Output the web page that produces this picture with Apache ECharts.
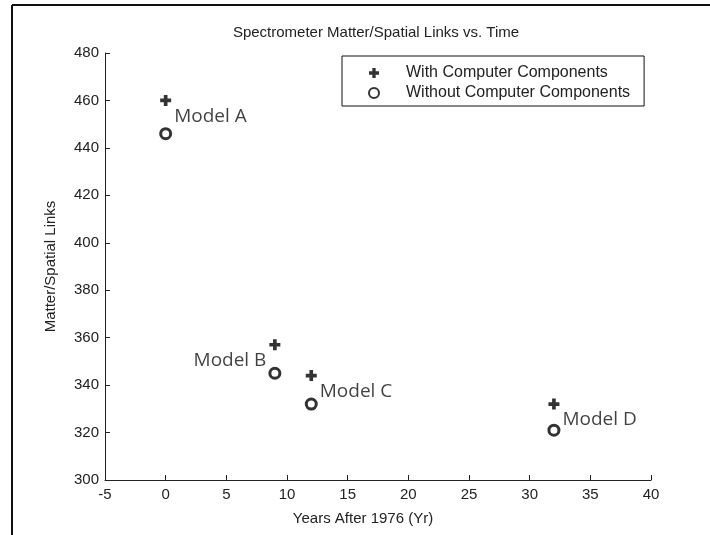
<!DOCTYPE html>
<html>
<head>
<meta charset="utf-8">
<script src="https://cdn.jsdelivr.net/npm/echarts@6/dist/echarts.min.js"></script>
<style>
  html, body { margin: 0; padding: 0; background: #fff; }
  #e_chart_1 { width: 710px; height: 535px; }
</style>
</head>
<body>
<div id="e_chart_1"></div>
<script>
var years = [0, 9, 12, 32];
var withComputer = [460, 357, 344, 332];
var withoutComputer = [446, 345, 332, 321];
var models = ['Model A', 'Model B', 'Model C', 'Model D'];
var xTicks = [-5, 0, 5, 10, 15, 20, 25, 30, 35, 40];
var yTicks = [300, 320, 340, 360, 380, 400, 420, 440, 460, 480];

// where each model label sits next to its "with" marker
var labelSide = ['right', 'left', 'right', 'right'];

var plusPath = 'path://M3,0H6V3H9V6H6V9H3V6H0V3H3Z';
var font = 'Liberation Sans, Arial, sans-serif';

var dom = document.getElementById("e_chart_1");
var myChart = echarts.init(dom);

var withData = years.map(function (x, i) {
    return {
        value: [x, withComputer[i]],
        label: {
            show: true,
            formatter: models[i],
            position: labelSide[i],
            distance: 3,
            offset: [0, 16],
            color: '#111',
            fontFamily: 'Open Sans, Noto Sans, sans-serif',
            fontSize: 19
        }
    };
});
var withoutData = years.map(function (x, i) {
    return [x, withoutComputer[i]];
});

var option = {
    backgroundColor: '#fff',
    animation: false,
    title: {
        text: 'Spectrometer Matter/Spatial Links vs. Time',
        left: 371,
        top: 20,
        textAlign: 'center',
        textStyle: {
            fontFamily: font,
            fontWeight: 'normal',
            fontSize: 15,
            color: '#222'
        }
    },
    legend: {
        orient: 'vertical',
        left: 342,
        top: 56,
        padding: [9, 14, 5, 26],
        itemGap: 4,
        itemWidth: 10,
        itemHeight: 10,
        borderColor: '#111',
        borderWidth: 1,
        borderRadius: 0,
        textStyle: {
            fontFamily: font,
            fontSize: 16,
            color: '#222',
            padding: [0, 0, 0, 22]
        },
        data: [
            { name: 'With Computer Components', icon: plusPath },
            { name: 'Without Computer Components', icon: 'circle' }
        ]
    },
    grid: {
        left: 105,
        right: 59,
        top: 53,
        bottom: 55
    },
    xAxis: {
        type: 'value',
        min: xTicks[0],
        max: xTicks[xTicks.length - 1],
        interval: 5,
        name: 'Years After 1976 (Yr)',
        nameLocation: 'middle',
        nameGap: 31,
        nameTextStyle: {
            fontFamily: font,
            fontSize: 15,
            color: '#222',
            padding: [0, 30, 0, 0]
        },
        axisLine: { show: true, onZero: false, lineStyle: { color: '#222', width: 1 } },
        axisTick: { show: true, inside: true, length: 5, lineStyle: { color: '#222' } },
        axisLabel: {
            margin: 7,
            fontFamily: font,
            fontSize: 15,
            color: '#222'
        },
        splitLine: { show: false }
    },
    yAxis: {
        type: 'value',
        min: yTicks[0],
        max: yTicks[yTicks.length - 1],
        interval: 20,
        name: 'Matter/Spatial Links',
        nameLocation: 'middle',
        nameGap: 47,
        nameTextStyle: {
            fontFamily: font,
            fontSize: 15,
            color: '#222'
        },
        axisLine: { show: true, onZero: false, lineStyle: { color: '#222', width: 1 } },
        axisTick: { show: true, inside: true, length: 5, lineStyle: { color: '#222' } },
        axisLabel: {
            margin: 6,
            fontFamily: font,
            fontSize: 15,
            color: '#222'
        },
        splitLine: { show: false }
    },
    graphic: [
        {
            type: 'line',
            shape: { x1: 12, y1: 5, x2: 710, y2: 5 },
            style: { stroke: '#111', lineWidth: 2 }
        },
        {
            type: 'line',
            shape: { x1: 12, y1: 5, x2: 12, y2: 535 },
            style: { stroke: '#111', lineWidth: 2 }
        }
    ],
    series: [
        {
            name: 'With Computer Components',
            type: 'scatter',
            symbol: plusPath,
            symbolSize: 11,
            itemStyle: { color: '#000' },
            data: withData
        },
        {
            name: 'Without Computer Components',
            type: 'scatter',
            symbol: 'circle',
            symbolSize: 10,
            itemStyle: { color: '#fff', borderColor: '#000', borderWidth: 3 },
            data: withoutData
        }
    ]
};

myChart.setOption(option, true);
</script>
</body>
</html>
